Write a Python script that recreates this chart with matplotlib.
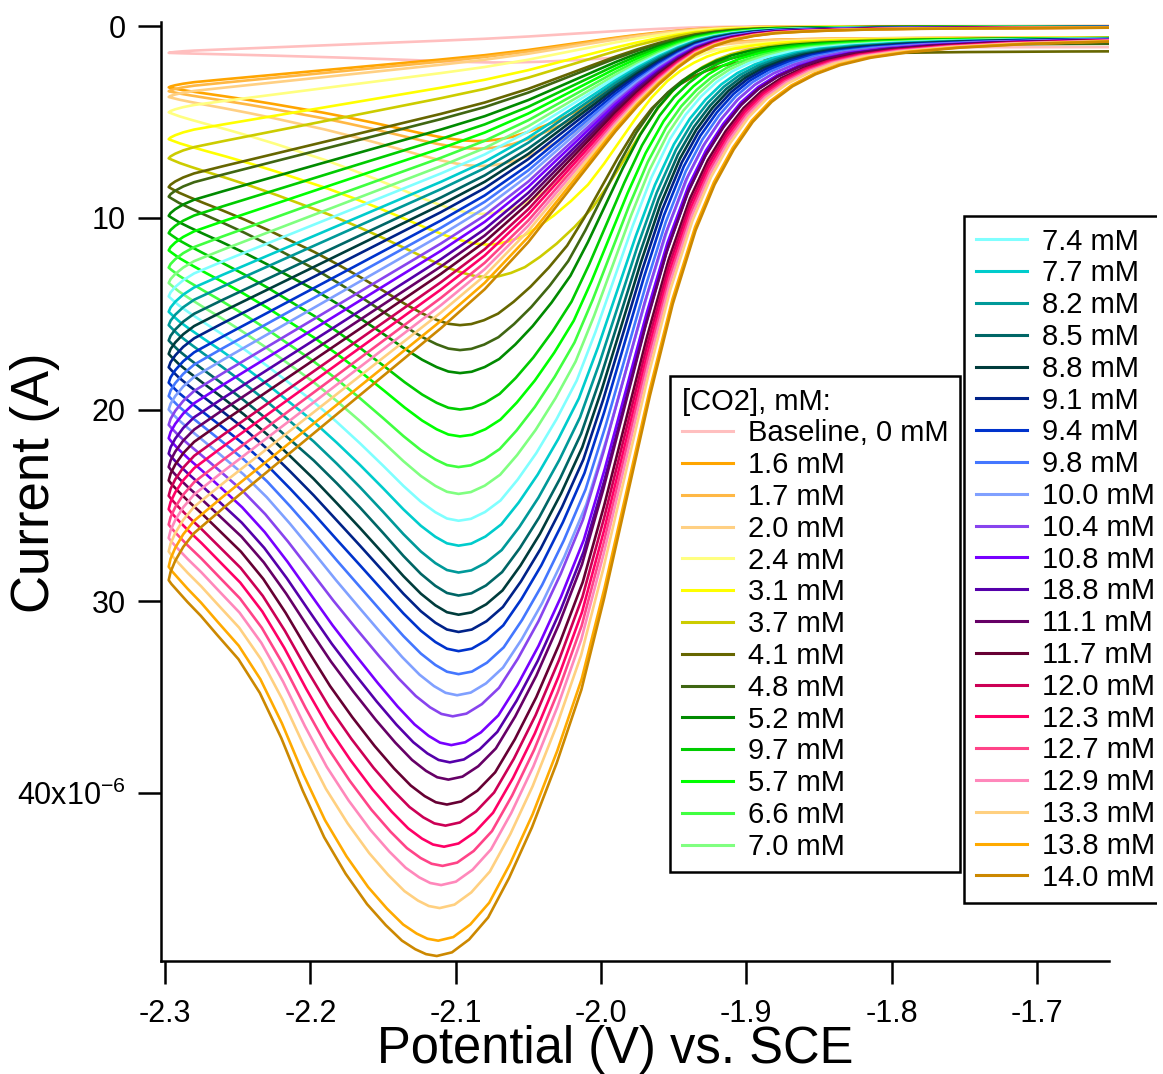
import numpy as np
import matplotlib
matplotlib.use("Agg")
import matplotlib.pyplot as plt
from matplotlib.lines import Line2D
from matplotlib.transforms import Bbox, TransformedBbox

plt.rcParams["font.family"] = ["Liberation Sans", "DejaVu Sans"]
plt.rcParams["mathtext.fontset"] = "custom"
plt.rcParams["mathtext.rm"] = "Liberation Sans"
plt.rcParams["axes.unicode_minus"] = False

# one entry per voltammogram, in legend order
LABELS = ["Baseline, 0 mM", "1.6 mM", "1.7 mM", "2.0 mM", "2.4 mM", "3.1 mM",
          "3.7 mM", "4.1 mM", "4.8 mM", "5.2 mM", "9.7 mM", "5.7 mM", "6.6 mM",
          "7.0 mM", "7.4 mM", "7.7 mM", "8.2 mM", "8.5 mM", "8.8 mM", "9.1 mM",
          "9.4 mM", "9.8 mM", "10.0 mM", "10.4 mM", "10.8 mM", "18.8 mM",
          "11.1 mM", "11.7 mM", "12.0 mM", "12.3 mM", "12.7 mM", "12.9 mM",
          "13.3 mM", "13.8 mM", "14.0 mM"]
COLORS = ["#FFBFBF", "#FFA500", "#FFB845", "#FFD083", "#FFFF80", "#FFFF00",
          "#CCCC00", "#666600", "#3F6612", "#008A00", "#00CC00", "#00FF00",
          "#40FF40", "#80FF80", "#80FFFF", "#00CCCC", "#009999", "#006666",
          "#003C3C", "#002288", "#0033CC", "#4477FF", "#80A0FF", "#8844EE",
          "#7700FF", "#5500AA", "#660066", "#660033", "#CC0055", "#FF0066",
          "#FF4488", "#FF88BB", "#FFD080", "#FFAA00", "#CC8800"]

# peak current (1e-6 A) and peak potential (V) of the forward sweep
PEAK_I = [1.9, 6.0, 6.4, 7.3, 9.8, 11.4, 13.1, 15.6, 16.9, 18.1, 20.0, 21.4,
          23.0, 24.4, 25.8, 27.1, 28.5, 29.7, 30.7, 31.6, 32.6, 33.8, 34.9,
          36.0, 37.5, 38.4, 39.3, 40.6, 41.7, 42.8, 43.8, 44.8, 46.0, 47.7, 48.5]
PEAK_E = [-2.070, -2.085, -2.085, -2.083, -2.082, -2.078, -2.078, -2.097,
          -2.097, -2.097, -2.097, -2.097, -2.098, -2.098, -2.098, -2.098,
          -2.098, -2.098, -2.098, -2.098, -2.098, -2.098, -2.099, -2.102,
          -2.103, -2.104, -2.105, -2.106, -2.107, -2.108, -2.109, -2.110,
          -2.111, -2.112, -2.113]
# potential where the rising edge is at half the peak current
HALF_E = [-1.970, -1.995, -1.995, -1.993, -1.990, -1.987, -1.983, -2.000,
          -1.999, -1.997, -1.996, -1.994, -1.993, -1.992, -1.991, -1.989,
          -1.988, -1.987, -1.986, -1.985, -1.984, -1.983, -1.982, -1.984,
          -1.983, -1.983, -1.984, -1.983, -1.983, -1.983, -1.983, -1.983,
          -1.983, -1.982, -1.982]
# current at the negative turning point
TIP_I = [1.4, 3.2, 3.4, 3.7, 4.5, 5.9, 6.9, 8.4, 8.9, 9.9, 10.8, 11.7, 12.6,
         13.4, 14.1, 14.9, 15.6, 16.4, 17.1, 17.8, 18.6, 19.3, 20.0, 20.8,
         21.5, 22.3, 23.0, 23.7, 24.5, 25.2, 26.0, 26.7, 27.4, 28.2, 28.9]
# residual current at the positive end of the forward sweep
TAIL_I = [1.1, 0.6, 0.6, 0.6, 0.6, 0.6, 0.6, 1.3, 0.9, 0.6, 0.6, 0.6, 0.6,
          0.6, 0.6, 0.6, 0.6, 0.6, 0.6, 0.6, 0.6, 0.6, 0.6, 0.6, 0.6, 0.6,
          0.6, 0.6, 0.6, 0.6, 0.6, 0.6, 0.6, 0.6, 0.6]
# how broad the top is between the peak and the turning point (0 narrow, 1 broad)
SHOULDER = [0, 0, 0, 0, 0, 0, 0, 0, 0, 0, 0, 0, 0, 0, 0, 0, 0, 0, 0.1, 0.15,
            0.2, 0.25, 0.3, 0.35, 0.4, 0.45, 0.5, 0.6, 0.65, 0.7, 0.75, 0.8,
            0.85, 0.95, 1.0]

# normalised shapes
RISE_U = [0.0, 0.08, 0.17, 0.27, 0.38, 0.50, 0.63, 0.76, 0.88, 1.00, 1.12,
          1.24, 1.36, 1.46, 1.56, 1.66, 1.76, 1.87, 1.99, 2.12, 2.28, 2.48,
          2.75, 3.10, 3.60, 4.30, 5.50]
RISE_F = [1.000, 0.996, 0.982, 0.958, 0.915, 0.860, 0.790, 0.710, 0.610,
          0.500, 0.390, 0.290, 0.210, 0.160, 0.122, 0.092, 0.070, 0.053,
          0.040, 0.030, 0.022, 0.016, 0.011, 0.007, 0.004, 0.002, 0.000]
FALL_V = [0.0, 0.04, 0.08, 0.13, 0.19, 0.26, 0.34, 0.42, 0.50, 0.58, 0.66,
          0.74, 0.82, 0.88, 0.93, 0.965, 0.99, 1.0]
FALL_BROAD = [1.0, 0.995, 0.982, 0.959, 0.918, 0.862, 0.781, 0.684, 0.56,
              0.42, 0.30, 0.21, 0.145, 0.095, 0.058, 0.03, 0.01, 0.0]
FALL_NARROW = [1.0, 0.99, 0.962, 0.915, 0.845, 0.755, 0.655, 0.56, 0.47,
               0.39, 0.31, 0.235, 0.165, 0.115, 0.072, 0.04, 0.012, 0.0]
RET_E = [-2.2975, -2.2962, -2.293, -2.2875, -2.280, -2.260, -2.230, -2.200,
         -2.170, -2.140, -2.110, -2.080, -2.050, -2.020, -2.005, -1.990,
         -1.975, -1.960, -1.947, -1.935, -1.922, -1.910, -1.895, -1.880,
         -1.860, -1.840, -1.810, -1.780, -1.720, -1.648]
RET_G = [1.0, 0.985, 0.965, 0.94, 0.915, 0.87, 0.805, 0.74, 0.675, 0.61,
         0.545, 0.475, 0.39, 0.29, 0.24, 0.19, 0.145, 0.105, 0.075, 0.052,
         0.036, 0.026, 0.018, 0.013, 0.010, 0.008, 0.006, 0.005, 0.004,
         0.003]

E_TURN = -2.2975
X_TICKS = [-2.3, -2.2, -2.1, -2.0, -1.9, -1.8, -1.7]
Y_TICKS = [0, 10, 20, 30, 40]
Y_TICK_LABELS = ["0", "10", "20", "30", "40x10$^{-6}$"]


def trace(k):
    """Forward sweep (right to left) followed by the return sweep."""
    ip, ep, tip = PEAK_I[k], PEAK_E[k], TIP_I[k]
    u = np.array(RISE_U)[::-1]
    f = np.array(RISE_F)[::-1]
    e_rise = ep + u * (HALF_E[k] - ep)
    i_rise = ip * f + TAIL_I[k] * (1 - f)

    v = np.array(FALL_V[1:])
    s = SHOULDER[k]
    h = (1 - s) * np.array(FALL_NARROW[1:]) + s * np.array(FALL_BROAD[1:])
    e_fall = ep - v * (ep - E_TURN)
    i_fall = tip + (ip - tip) * h

    e_ret = np.array(RET_E[1:])
    i_ret = tip * np.array(RET_G[1:])
    return (np.concatenate([e_rise, e_fall, e_ret]),
            np.concatenate([i_rise, i_fall, i_ret]))


W, H = 1163, 1074
fig = plt.figure(figsize=(W / 100, H / 100), dpi=100)
ax = fig.add_axes([161 / W, 1 - 961 / H, (1109 - 161) / W, (961 - 22) / H])

for k in range(len(LABELS)):
    e, i = trace(k)
    ax.plot(e, i, color=COLORS[k], lw=1.9, solid_joinstyle="round")

ax.set_xlim(-2.3028, -1.6503)
ax.set_ylim(48.76, -0.21)
ax.set_xticks(X_TICKS)
ax.set_yticks(Y_TICKS)
ax.set_yticklabels(Y_TICK_LABELS)
for side in ("top", "right"):
    ax.spines[side].set_visible(False)
for side in ("left", "bottom"):
    ax.spines[side].set_linewidth(1.8)
ax.tick_params(direction="out", length=16.5, width=1.8, labelsize=22)
ax.tick_params(axis="x", pad=11)
ax.tick_params(axis="y", pad=9)

fig.text(615 / W, 1 - 1063 / H, "Potential (V) vs. SCE", fontsize=36.5,
         ha="center", va="baseline")
fig.text(35 / W, 1 - 483 / H, "Current (A)", fontsize=38, rotation=90,
         ha="center", va="center")

handles = [Line2D([], [], color=c, lw=2.2) for c in COLORS]
leg_kw = dict(loc="upper left", bbox_transform=fig.transFigure, fontsize=21,
              borderaxespad=0, handlelength=1.75, handletextpad=0.51,
              labelspacing=0.13, borderpad=0.4, fancybox=False,
              edgecolor="black", framealpha=1, alignment="left")
leg1 = fig.legend(handles[:14], LABELS[:14], title="[CO2], mM:",
                  title_fontsize=21, bbox_to_anchor=(670 / W, 1 - 376 / H),
                  **leg_kw)
leg2 = fig.legend(handles[14:], LABELS[14:],
                  bbox_to_anchor=(964 / W, 1 - 216 / H), **leg_kw)
for leg in (leg1, leg2):
    leg.get_frame().set_linewidth(1.8)

# the second box runs off the right edge of the picture
frame2 = leg2.get_frame()
frame2.set_clip_box(TransformedBbox(Bbox([[0, 0], [1157 / W, 1]]),
                                    fig.transFigure))
frame2.set_clip_on(True)

fig.savefig("out.png", dpi=100)
